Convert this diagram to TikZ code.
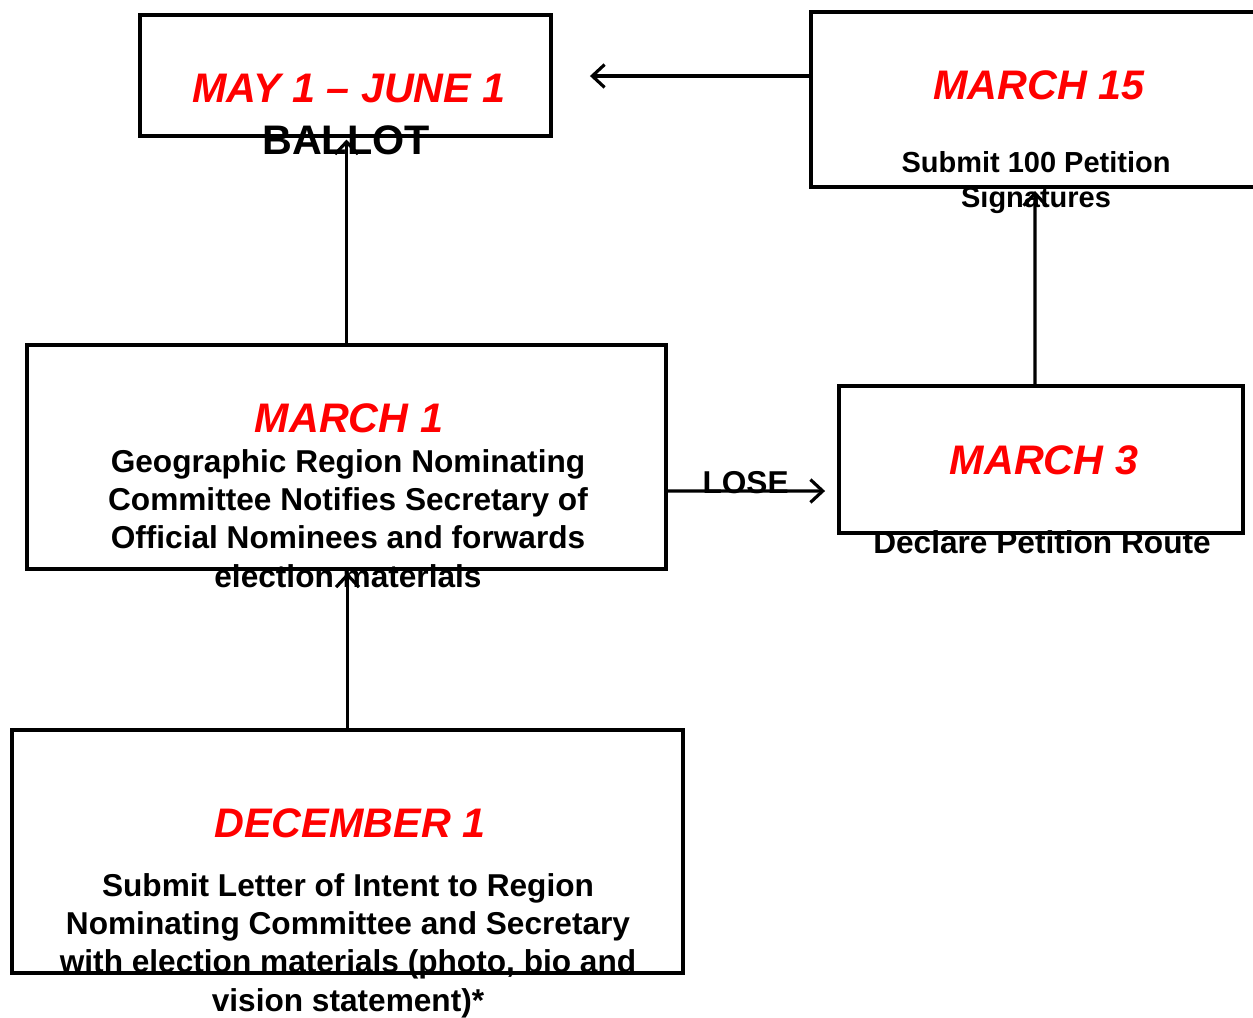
\documentclass[tikz,border=0pt]{standalone}
\usepackage{fontspec}
\setmainfont{Liberation Sans}
\usetikzlibrary{arrows.meta}

\begin{document}
\begin{tikzpicture}[x=0.02cm, y=-0.02cm,
  box/.style={draw, line width=2.6pt, inner sep=0pt, outer sep=0pt},
  date/.style={text=red, font=\fontsize{23.5}{28}\selectfont\bfseries\itshape, anchor=base, inner sep=0pt},
  info/.style={font=\fontsize{18}{21.7}\selectfont\bfseries, align=center, anchor=base, inner sep=0pt},
  link/.style={line width=1.8pt, -{Straight Barb[length=7pt,width=13pt]}}]
  \useasboundingbox (0,0) rectangle (1253,1017);

  % boxes
  \node[box, minimum width=8.22cm, minimum height=2.42cm] (ballot) at (345.5,75.5) {};
  \node[box, minimum width=9.08cm, minimum height=3.5cm] (mar15) at (1038,99.5) {};
  \node[box, minimum width=12.78cm, minimum height=4.48cm] (mar1) at (346.5,457) {};
  \node[box, minimum width=8.08cm, minimum height=2.94cm] (mar3) at (1041,459.5) {};
  \node[box, minimum width=13.42cm, minimum height=4.86cm] (dec) at (347.5,851.5) {};

  % texts (base = last line)
  \node[date] (ballot-date) at (349,103) {MAY 1 – JUNE 1};
  \node[date, text=black, font=\fontsize{23.5}{28}\selectfont\bfseries] (ballot-text) at (346,154) {BALLOT};
  \node[date] (mar15-date) at (1039,99) {MARCH 15};
  \node[info, font=\fontsize{16.5}{19.5}\selectfont\bfseries] (mar15-text) at (1036,207) {Submit 100 Petition\\Signatures};
  \node[date] (mar1-date) at (349,432) {MARCH 1};
  \node[info] (mar1-text) at (348,587) {Geographic Region Nominating\\Committee Notifies Secretary of\\Official Nominees and forwards\\election materials};
  \node[date] (mar3-date) at (1044,474) {MARCH 3};
  \node[info] (mar3-text) at (1042,553) {Declare Petition Route};
  \node[date] (dec-date) at (350,837) {DECEMBER 1};
  \node[info] (dec-text) at (348,1011) {Submit Letter of Intent to Region\\Nominating Committee and Secretary\\with election materials (photo, bio and\\vision statement)*};

  % arrows
  \coordinate (m15w) at ([yshift=0.47cm]mar15.west);
  \draw[link, shorten >=2pt] (dec.north) -- (dec.north |- mar1.south);
  \draw[link, shorten >=2pt] (mar1.north) -- (mar1.north |- ballot.south);
  \draw[link, shorten >=0.28cm] ([yshift=-0.68cm]mar1.east) -- node[info, pos=0.46, yshift=-0.06cm] (lose) {LOSE} ([yshift=-0.63cm]mar3.west);
  \draw[link, shorten >=0.08cm] ([xshift=-0.12cm]mar3.north) -- ([xshift=-0.06cm]mar15.south);
  \draw[link, shorten >=0.78cm] (m15w) -- (m15w -| ballot.east);
\end{tikzpicture}
\end{document}
